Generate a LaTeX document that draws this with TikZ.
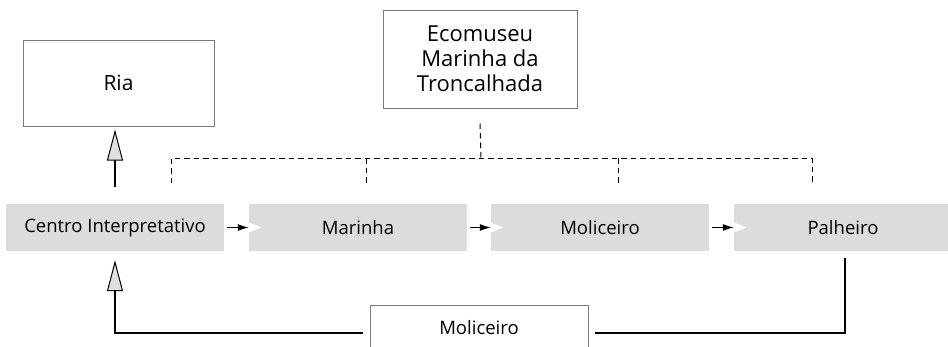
\documentclass[tikz,border=0pt]{standalone}
\usepackage{fontspec}
\setmainfont{Open Sans}
\usetikzlibrary{arrows.meta}
\definecolor{boxgray}{HTML}{DCDCDD}
\definecolor{edgegray}{HTML}{7A7A7A}
\tikzset{
  x=1pt,y=-1pt,
  wbox/.style={draw=edgegray,line width=1pt,fill=white,minimum width=#1,inner sep=0pt},
  gbox/.style={fill=boxgray,minimum width=218pt,minimum height=47pt,inner sep=0pt,font=\fontsize{18.5}{22}\selectfont},
  flow/.style={line width=1.1pt,-{Latex[length=11pt,width=7pt]}},
  notch/.style={fill=white,draw=none},
  dashline/.style={line width=1pt,dash pattern=on 5.5pt off 4pt},
  feed/.style={line width=1.1pt,-{Triangle[open,length=31pt,width=16pt,fill=gray!25,line width=1pt]}},
}
\begin{document}
\begin{tikzpicture}
\useasboundingbox (0,0) rectangle (948,346);
% top boxes
\node[wbox=191pt,minimum height=86pt,font=\fontsize{21}{25}\selectfont] (ria) at (118.5,83) {Ria};
\node[wbox=194pt,minimum height=98pt,align=center,font=\fontsize{22}{25}\selectfont] (eco) at (480,59) {Ecomuseu\\Marinha da\\Troncalhada};
% gray boxes
\node[gbox] (centro) at (115,227.5) {Centro Interpretativo};
\node[gbox] (marinha) at (358,227.5) {Marinha};
\node[gbox] (molic) at (600,227.5) {Moliceiro};
\node[gbox] (palh) at (843,227.5) {Palheiro};
% bottom open box
\node[font=\fontsize{18.5}{22}\selectfont] (bot) at (479,328) {Moliceiro};
\draw[draw=edgegray,line width=1pt] (370,347) -- (370,305) -- (588,305) -- (588,347);
% flow arrows
\foreach \a/\b in {centro/marinha,marinha/molic,molic/palh}{
  \draw[flow,shorten <=3pt] (\a.east) -- (\b.west);
  \fill[notch] (\b.west) ++(0,-5) -- ++(12.5,5) -- ++(-12.5,5) -- cycle;
}
% dashed connectors
\coordinate (dh1) at (171,158);
\coordinate (dh2) at (812,158);
\draw[dashline] (eco.south) ++(0,15) -- (481,158);
\draw[dashline] (171,183) -- (dh1) -- (dh2) -- (812,183);
\draw[dashline] (366,158) -- (366,183);
\draw[dashline] (618,158) -- (618,183);
% centro -> ria
\draw[feed,shorten <=17pt,shorten >=3pt] (centro.north) -- (ria.south -| centro.north);
% bottom feedback
\coordinate (bl) at (363,333);
\coordinate (br) at (595,333);
\draw[feed,shorten >=9pt] (bl) -| (centro.south);
\draw[line width=1.1pt,shorten >=7pt] (br) -| (palh.south -| 845,0);
\end{tikzpicture}
\end{document}
